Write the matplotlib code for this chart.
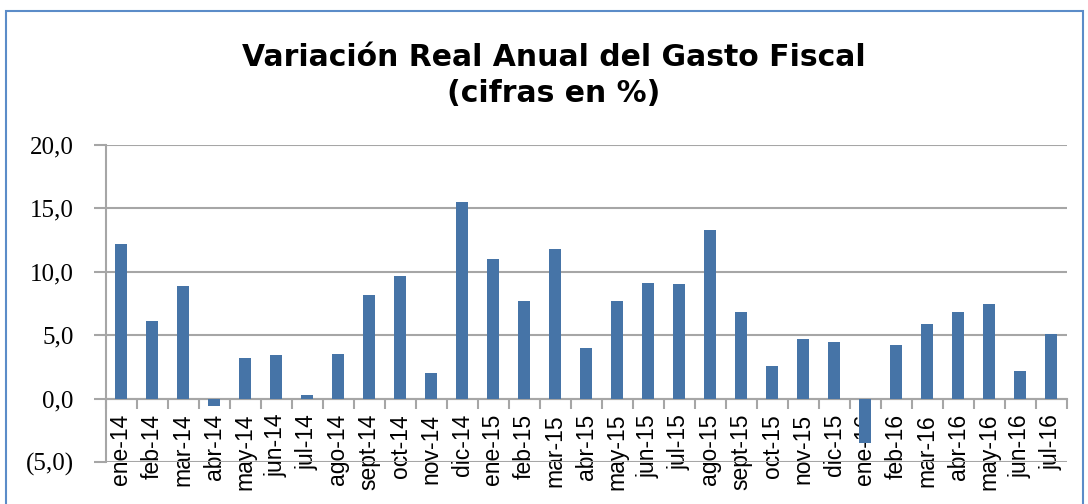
import matplotlib.pyplot as plt
from matplotlib.patches import Rectangle
import numpy as np

meses = ['ene-14', 'feb-14', 'mar-14', 'abr-14', 'may-14', 'jun-14', 'jul-14', 'ago-14',
         'sept-14', 'oct-14', 'nov-14', 'dic-14', 'ene-15', 'feb-15', 'mar-15', 'abr-15',
         'may-15', 'jun-15', 'jul-15', 'ago-15', 'sept-15', 'oct-15', 'nov-15', 'dic-15',
         'ene-16', 'feb-16', 'mar-16', 'abr-16', 'may-16', 'jun-16', 'jul-16']
variacion = [12.2, 6.1, 8.9, -0.6, 3.2, 3.4, 0.3, 3.5, 8.2, 9.7, 2.0, 15.5, 11.0, 7.7,
             11.8, 4.0, 7.7, 9.1, 9.0, 13.3, 6.8, 2.6, 4.7, 4.5, -3.5, 4.2, 5.9, 6.8,
             7.5, 2.2, 5.1]
yticks = [-5, 0, 5, 10, 15, 20]
ytick_labels = ['(5,0)', '0,0', '5,0', '10,0', '15,0', '20,0']

W, H = 1088, 504
fig = plt.figure(figsize=(W / 100, H / 100), dpi=100)
fig.patch.set_facecolor('white')

# marco exterior del grafico
fig.patches.append(Rectangle((6 / W, -0.05), (1083 - 6) / W, 1.05 - 11 / H,
                             transform=fig.transFigure, fill=False,
                             edgecolor='#5B8CC8', lw=1.5))

ax = fig.add_axes([105.5 / W, 1 - 462 / H, (1066.5 - 105.5) / W, (462 - 145) / H])
x = np.arange(len(meses))
ax.bar(x, variacion, width=0.41, color='#4674A7', zorder=3)

ax.set_xlim(-0.5, len(meses) - 0.5)
ax.set_ylim(-5, 20)
ax.set_yticks(yticks)
ax.set_yticklabels(ytick_labels, family='Liberation Serif', fontsize=18)
ax.yaxis.grid(True, color='#A6A6A6', lw=1.5, zorder=0)
ax.tick_params(axis='y', length=9, width=1.5, color='#A6A6A6', pad=14)

for s in ['top', 'right']:
    ax.spines[s].set_visible(False)
ax.spines['left'].set_color('#A6A6A6')
ax.spines['left'].set_linewidth(1.5)
ax.spines['bottom'].set_position(('data', 0))
ax.spines['bottom'].set_color('#A6A6A6')
ax.spines['bottom'].set_linewidth(1.5)

ax.set_xticks(x)
ax.set_xticklabels(meses, rotation=90, family='Liberation Sans', fontsize=16.5)
ax.tick_params(axis='x', which='major', length=0, pad=11)
ax.set_xticks(np.arange(len(meses) + 1) - 0.5, minor=True)
ax.tick_params(axis='x', which='minor', length=7, width=1.5, color='#A6A6A6')

fig.text(554 / W, 1 - 57 / H, 'Variación Real Anual del Gasto Fiscal', ha='center',
         va='center', fontsize=21.5, fontweight='bold', family='DejaVu Sans')
fig.text(554 / W, 1 - 93 / H, '(cifras en %)', ha='center', va='center',
         fontsize=21.5, fontweight='bold', family='DejaVu Sans')

fig.savefig('out.png', dpi=100)
